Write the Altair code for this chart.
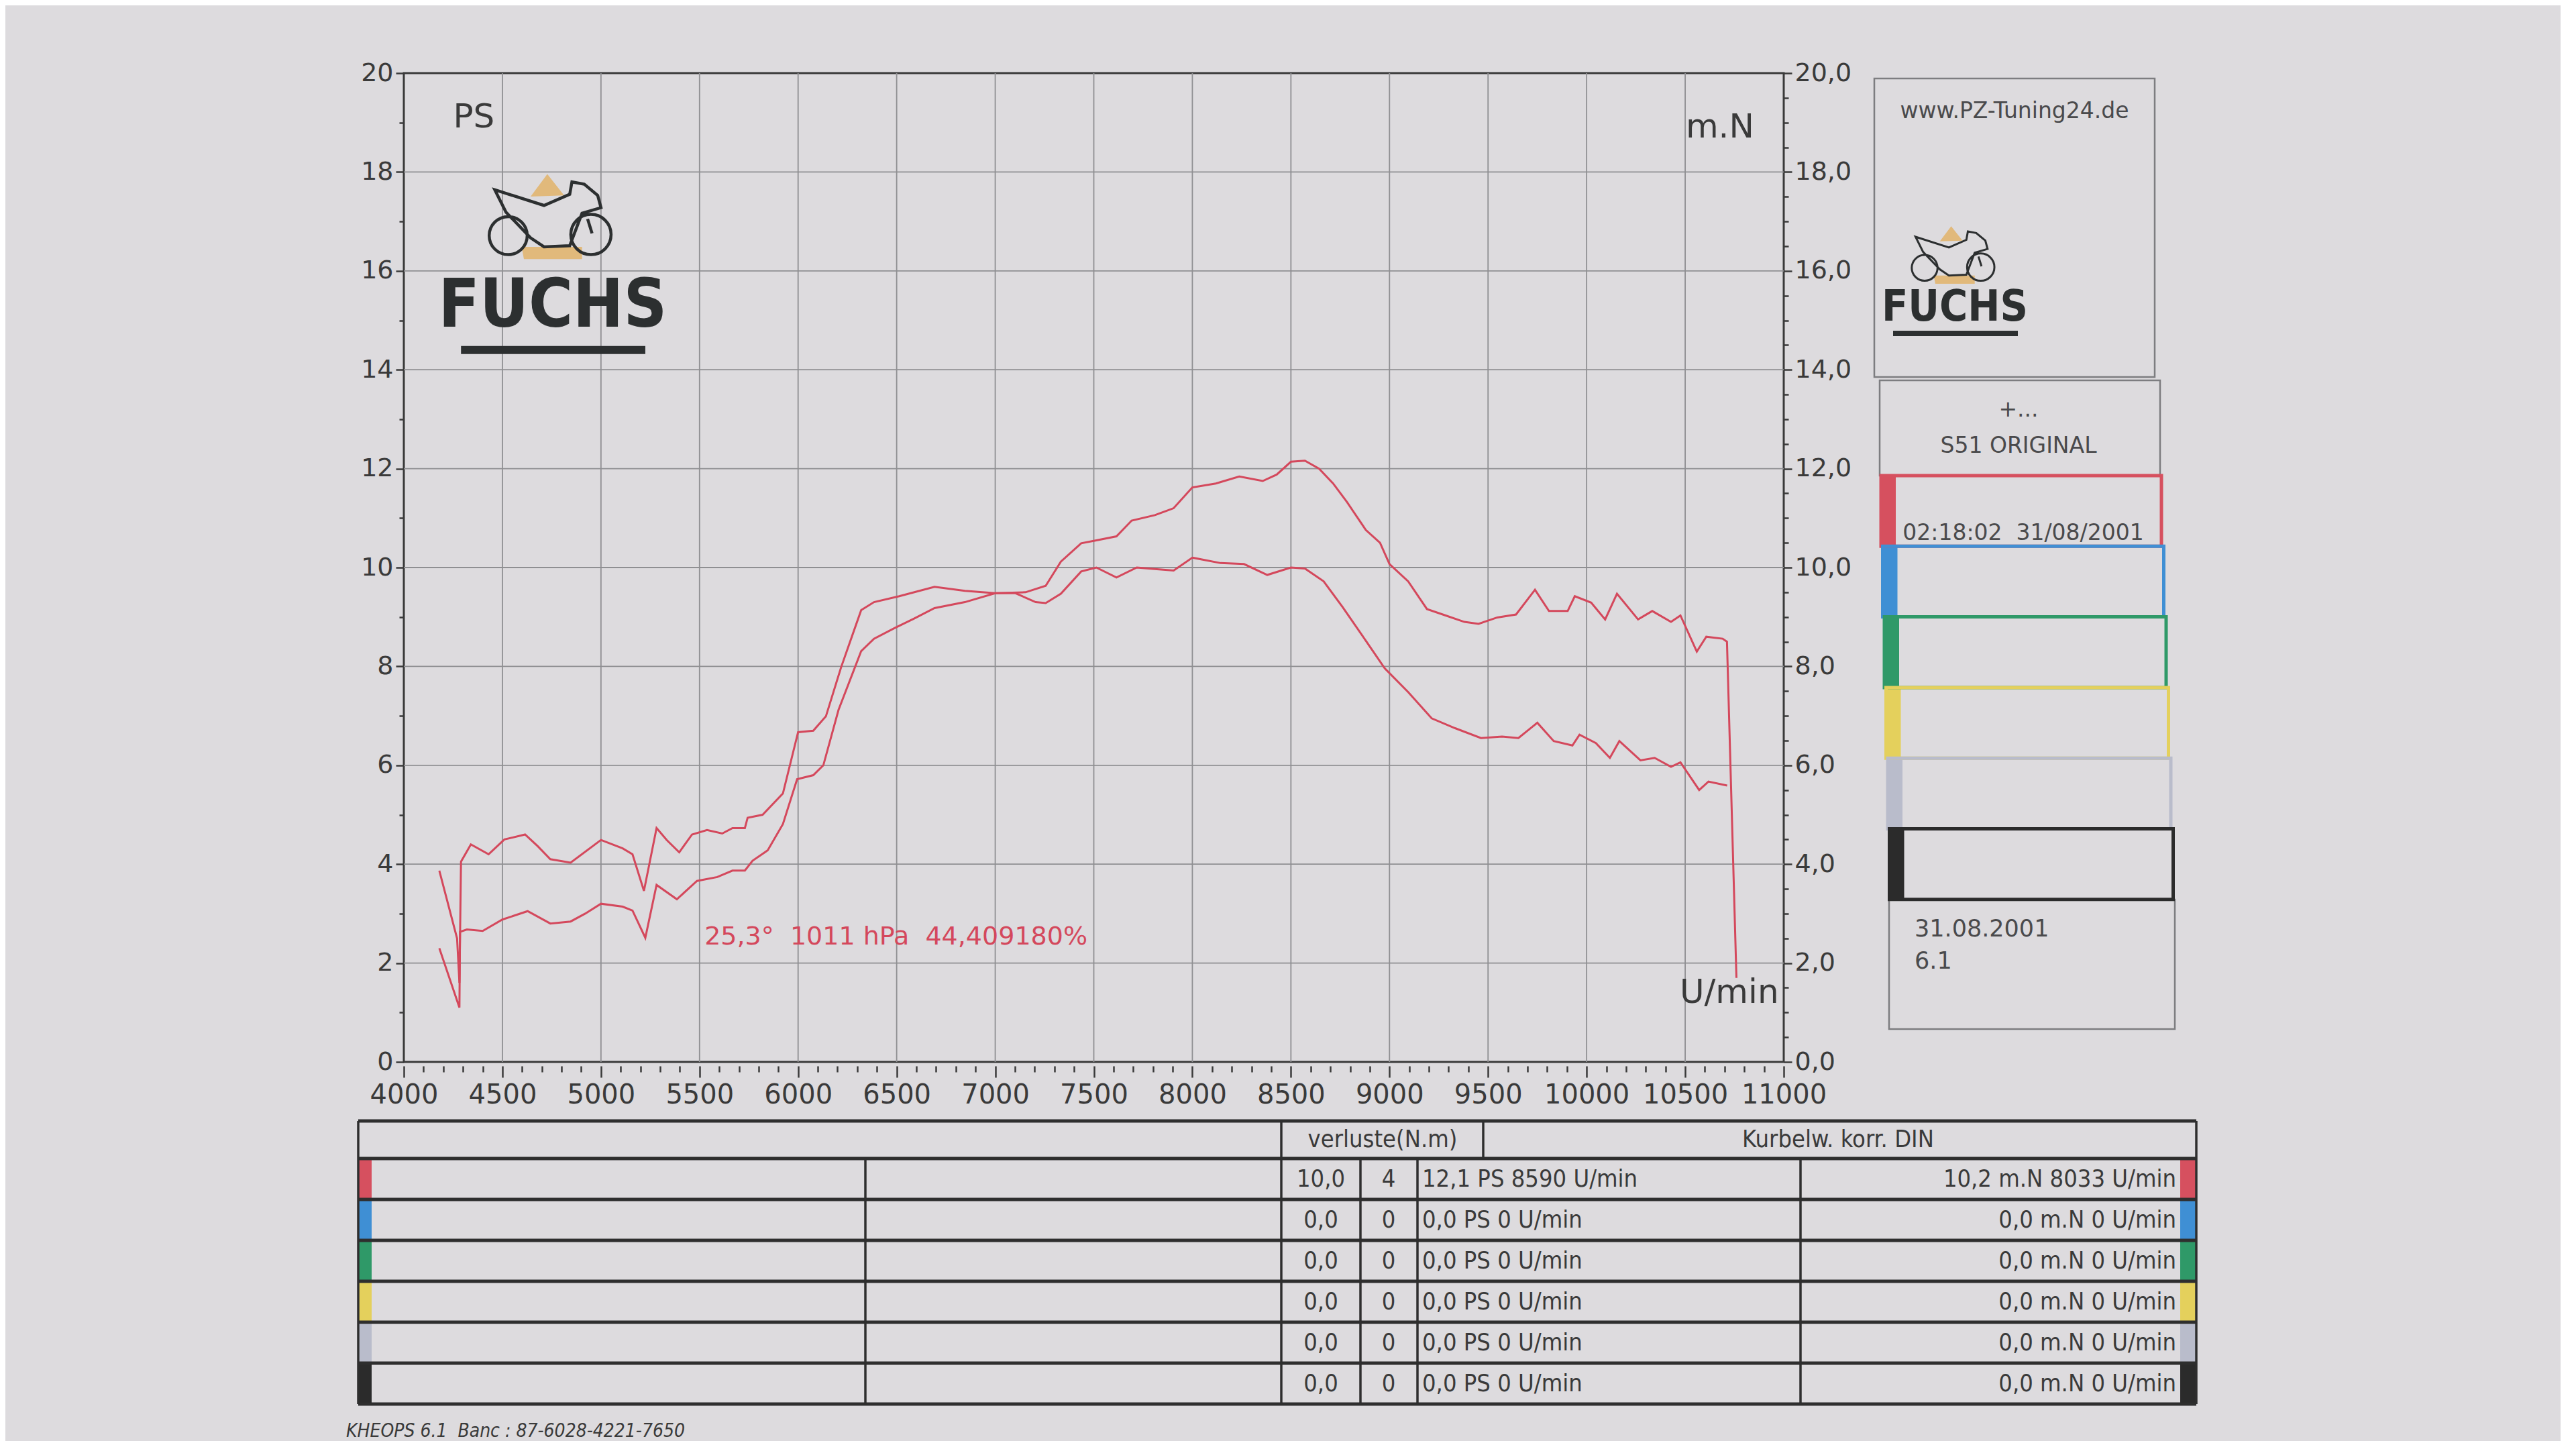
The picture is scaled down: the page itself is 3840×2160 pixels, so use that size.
import altair as alt
import pandas as pd

# ---------------- data read from the dyno sheet ----------------
ps_rpm = [4180, 4282, 4285, 4320, 4400, 4500, 4628, 4743, 4846, 4920, 5000, 5110, 5160, 5225,
          5282, 5385, 5487, 5590, 5667, 5730, 5769, 5846, 5923, 5995, 6077, 6128, 6205, 6320,
          6385, 6487, 6590, 6692, 6846, 7000, 7154, 7256, 7333, 7436, 7513, 7615, 7692, 7810,
          7905, 8000, 8119, 8238, 8357, 8428, 8500, 8571, 8643, 8714, 8785, 8880, 8952, 9000,
          9095, 9190, 9285, 9380, 9452, 9547, 9642, 9738, 9809, 9904, 9940, 10023, 10094, 10154,
          10261, 10333, 10428, 10476, 10559, 10607, 10690, 10712, 10760]
ps_val = [2.3, 1.1, 2.63, 2.68, 2.65, 2.88, 3.05, 2.8, 2.84, 3.0, 3.2, 3.14, 3.06, 2.51,
          3.58, 3.29, 3.66, 3.74, 3.87, 3.87, 4.07, 4.28, 4.81, 5.72, 5.8, 6.0, 7.12, 8.31,
          8.56, 8.77, 8.97, 9.18, 9.3, 9.48, 9.5, 9.63, 10.12, 10.49, 10.55, 10.63, 10.95, 11.06,
          11.2, 11.62, 11.7, 11.84, 11.75, 11.88, 12.14, 12.16, 12.0, 11.7, 11.32, 10.76, 10.5, 10.07,
          9.72, 9.16, 9.03, 8.9, 8.86, 8.99, 9.05, 9.55, 9.12, 9.12, 9.42, 9.29, 8.95, 9.47,
          8.95, 9.12, 8.9, 9.03, 8.3, 8.6, 8.56, 8.5, 1.7]

nm_rpm = [4180, 4270, 4282, 4290, 4340, 4430, 4510, 4615, 4680, 4743, 4846, 5000, 5110, 5160,
          5218, 5282, 5333, 5397, 5462, 5538, 5615, 5667, 5730, 5744, 5820, 5923, 6000, 6077,
          6141, 6218, 6320, 6385, 6513, 6692, 6846, 7000, 7103, 7205, 7256, 7333, 7436, 7513,
          7615, 7718, 7810, 7905, 8000, 8143, 8262, 8380, 8500, 8571, 8666, 8762, 8880, 8976,
          9095, 9214, 9333, 9464, 9571, 9654, 9750, 9833, 9928, 9964, 10047, 10118, 10166, 10273,
          10345, 10428, 10476, 10571, 10618, 10713]
nm_val = [3.87, 2.5, 1.6, 4.05, 4.4, 4.2, 4.5, 4.6, 4.36, 4.1, 4.03, 4.49, 4.32, 4.2,
          3.46, 4.73, 4.49, 4.24, 4.6, 4.69, 4.62, 4.73, 4.73, 4.94, 5.0, 5.43, 6.67, 6.7,
          6.99, 7.98, 9.14, 9.3, 9.42, 9.61, 9.53, 9.48, 9.48, 9.3, 9.28, 9.47, 9.92, 10.0,
          9.8, 10.0, 9.97, 9.94, 10.2, 10.09, 10.07, 9.85, 10.0, 9.98, 9.72, 9.2, 8.52, 7.96,
          7.48, 6.95, 6.75, 6.55, 6.58, 6.55, 6.86, 6.49, 6.4, 6.62, 6.45, 6.15, 6.49, 6.1,
          6.15, 5.97, 6.06, 5.5, 5.67, 5.59]

x_ticks = list(range(4000, 11001, 100))
x_grid = list(range(4500, 11000, 500))
y_ticks = [i * 0.5 for i in range(41)]
y_grid = list(range(2, 20, 2))

conditions_text = "25,3°\u00a0 1011 hPa\u00a0 44,409180%"
site = "www.PZ-Tuning24.de"
run_title = ["+...", "S51 ORIGINAL"]
run_stamp = "02:18:02\u00a0 31/08/2001"
sheet_date = ["31.08.2001", "6.1"]
run_colors = ["#d6505f", "#3f8fd4", "#2f9968", "#e4d05c", "#b9bccb", "#2b2b2b"]
head_loss = "verluste(N.m)"
head_din = "Kurbelw. korr. DIN"
loss_a = ["10,0", "0,0", "0,0", "0,0", "0,0", "0,0"]
loss_b = ["4", "0", "0", "0", "0", "0"]
ps_max = ["12,1 PS 8590 U/min", "0,0 PS 0 U/min", "0,0 PS 0 U/min",
          "0,0 PS 0 U/min", "0,0 PS 0 U/min", "0,0 PS 0 U/min"]
nm_max = ["10,2 m.N 8033 U/min", "0,0 m.N 0 U/min", "0,0 m.N 0 U/min",
          "0,0 m.N 0 U/min", "0,0 m.N 0 U/min", "0,0 m.N 0 U/min"]
footer = "KHEOPS 6.1\u00a0 Banc : 87-6028-4221-7650"

# ---------------- styles ----------------
RED = "#d4485c"
INK = "#3a3a3a"
PAPER = "#dddbde"
GRID = "#8f8f92"
FONT = "DejaVu Sans"
NARROW = "'Liberation Sans Narrow', 'DejaVu Sans Condensed', 'DejaVu Sans'"
LOGO_INK = "#2c2f30"
LOGO_GOLD = "#e2b36a"

MOTO = ("M-0.926,-0.426 L-0.111,-0.167 L0.315,-0.352 L0.352,-0.556 L0.556,-0.519 "
        "L0.778,-0.333 L0.833,-0.130 L0.519,-0.037 L0.315,0.5 L-0.111,0.519 L-0.333,0.370 "
        "L-0.741,-0.056 Z "
        "M-1.019,0.333 A0.315,0.315 0 1 0 -0.389,0.333 A0.315,0.315 0 1 0 -1.019,0.333 Z "
        "M0.333,0.315 A0.333,0.333 0 1 0 1.0,0.315 A0.333,0.333 0 1 0 0.333,0.315 Z "
        "M0.611,0.056 L0.685,0.296")
ACCENT = ("M-0.056,-0.685 L0.222,-0.333 L-0.333,-0.315 Z "
          "M-0.481,0.519 L0.519,0.519 L0.519,0.722 L-0.444,0.722 Z")

W, H = 2057, 1474

# ---------------- main dyno plot ----------------
xs = alt.Scale(domain=[4000, 11000], nice=False, zero=False)
ys = alt.Scale(domain=[0, 20], nice=False, zero=True)

x_axis = alt.Axis(values=x_ticks, format="d", title=None, domain=False, grid=False,
                  labelExpr="datum.value % 500 === 0 ? datum.label : ''",
                  labelOverlap=False, labelFlush=False, offset=6,
                  tickSize={"condition": {"test": "datum.value % 500 === 0", "value": 17}, "value": 9},
                  tickColor=INK, tickWidth=2.5, labelFont=FONT, labelFontSize=40,
                  labelColor=INK, labelPadding=6)
left_axis = alt.Axis(values=y_ticks, format="d", title=None, domain=False, grid=False,
                     labelExpr="datum.value % 2 === 0 ? datum.label : ''",
                     labelOverlap=False, labelFlush=False,
                     tickSize={"condition": {"test": "datum.value % 2 === 0", "value": 12}, "value": 7},
                     tickColor=INK, tickWidth=2.5, labelFont=FONT, labelFontSize=38,
                     labelColor=INK, labelPadding=4)
right_axis = alt.Axis(values=y_ticks, title=None, domain=False, grid=False, orient="right",
                      labelExpr="datum.value % 2 === 0 ? replace(format(datum.value, '.1f'), '.', ',') : ''",
                      labelOverlap=False, labelFlush=False,
                      tickSize={"condition": {"test": "datum.value % 2 === 0", "value": 12}, "value": 7},
                      tickColor=INK, tickWidth=2.5, labelFont=FONT, labelFontSize=38,
                      labelColor=INK, labelPadding=4)

X = alt.X("rpm:Q", scale=xs, axis=x_axis)
YL = alt.Y("val:Q", scale=ys, axis=left_axis)

vgrid = alt.Chart(pd.DataFrame({"rpm": x_grid})).mark_rule(color=GRID, strokeWidth=1.8).encode(x=X)
hgrid = alt.Chart(pd.DataFrame({"val": y_grid})).mark_rule(color=GRID, strokeWidth=1.8).encode(y=YL)

power = alt.Chart(pd.DataFrame({"rpm": ps_rpm, "val": ps_val})).mark_line(
    color=RED, strokeWidth=3, interpolate="linear").encode(x=X, y=YL, order="rpm:Q")

labels_df = pd.DataFrame({"rpm": [4250], "val": [19.1], "label": ["PS"]})
ps_label = alt.Chart(labels_df).mark_text(font=FONT, fontSize=50, color=INK, align="left",
                                          baseline="middle").encode(x=X, y=YL, text="label:N")
nm_lab_df = pd.DataFrame({"rpm": [10850], "val": [18.9], "label": ["m.N"]})
nm_label = alt.Chart(nm_lab_df).mark_text(font=FONT, fontSize=50, color=INK, align="right",
                                          baseline="middle").encode(x=X, y=YL, text="label:N")
u_df = pd.DataFrame({"rpm": [10975], "val": [1.4], "label": ["U/min"]})
u_label = alt.Chart(u_df).mark_text(font=FONT, fontSize=50, color=INK, align="right",
                                    baseline="middle").encode(x=X, y=YL, text="label:N")
cond_df = pd.DataFrame({"rpm": [5525], "val": [2.52], "label": [conditions_text]})
cond_label = alt.Chart(cond_df).mark_text(font=FONT, fontSize=38, color=RED, align="left",
                                          baseline="middle").encode(x=X, y=YL, text="label:N")

logo_pos = pd.DataFrame({"rpm": [4745], "val": [17.12]})
moto_gold = alt.Chart(logo_pos).mark_point(shape=ACCENT, size=32400, filled=True,
                                           color=LOGO_GOLD, opacity=0.85, strokeWidth=0).encode(x=X, y=YL)
moto = alt.Chart(logo_pos).mark_point(shape=MOTO, size=32400, filled=False, color=LOGO_INK,
                                      opacity=1, strokeWidth=4.5).encode(x=X, y=YL)
fuchs_df = pd.DataFrame({"rpm": [4755], "val": [15.28], "label": ["FUCHS"]})
fuchs = alt.Chart(fuchs_df).mark_text(font=NARROW, fontSize=100, fontWeight="bold", color=LOGO_INK,
                                      align="center", baseline="middle").encode(x=X, y=YL, text="label:N")
bar_df = pd.DataFrame({"rpm": [4290], "rpm2": [5225], "val": [14.4]})
fuchs_bar = alt.Chart(bar_df).mark_rule(color=LOGO_INK, strokeWidth=12).encode(
    x=X, x2="rpm2:Q", y=YL)

left_layer = alt.layer(hgrid, vgrid, moto_gold, moto, fuchs, fuchs_bar, ps_label, nm_label,
                       u_label, cond_label, power)

torque = alt.Chart(pd.DataFrame({"rpm": nm_rpm, "val": nm_val})).mark_line(
    color=RED, strokeWidth=3).encode(
    x=X, y=alt.Y("val:Q", scale=ys, axis=right_axis), order="rpm:Q")

main = alt.layer(left_layer, torque).resolve_scale(y="independent").properties(
    width=W, height=H, view=alt.ViewBackground(stroke=INK, strokeWidth=3))

# ---------------- side panel ----------------
SW, SH = 450, 1425
TOP_GAP = 8
px = alt.Scale(domain=[0, SW], nice=False, zero=False)
py = alt.Scale(domain=[-TOP_GAP, SH - TOP_GAP], nice=False, zero=False, reverse=True)
PX = lambda f: alt.X(f, scale=px, axis=None)
PY = lambda f: alt.Y(f, scale=py, axis=None)

box_df = pd.DataFrame({"x0": [0, 8, 22], "x1": [418, 426, 448],
                       "y0": [0, 450, 1224], "y1": [445, 592, 1417]})
boxes = alt.Chart(box_df).mark_rect(fill=None, stroke="#7d7d80", strokeWidth=2.5).encode(
    x=PX("x0:Q"), x2="x1:Q", y=PY("y0:Q"), y2="y1:Q")

run_df = pd.DataFrame({"color": run_colors, "idx": list(range(6))})
run_df["y0"] = 592 + run_df["idx"] * 105.3
run_df["y1"] = run_df["y0"] + 105.3
run_df["x0"] = 10 + run_df["idx"] * 2.5
run_df["x1"] = 428 + run_df["idx"] * 3.5
run_df["s1"] = run_df["x0"] + 22
run_boxes = alt.Chart(run_df).mark_rect(fill=None, strokeWidth=5).encode(
    x=PX("x0:Q"), x2="x1:Q", y=PY("y0:Q"), y2="y1:Q",
    stroke=alt.Color("color:N", scale=None))
run_stripes = alt.Chart(run_df).mark_rect().encode(
    x=PX("x0:Q"), x2="s1:Q", y=PY("y0:Q"), y2="y1:Q",
    fill=alt.Color("color:N", scale=None))

side_text_df = pd.DataFrame({
    "x": [209, 215, 215, 222],
    "y": [49, 494, 548, 678],
    "label": [site, run_title[0], run_title[1], run_stamp]})
side_text = alt.Chart(side_text_df).mark_text(font=FONT, fontSize=33, color="#4a4a4c",
                                              align="center", baseline="middle").encode(
    x=PX("x:Q"), y=PY("y:Q"), text="label:N")
date_df = pd.DataFrame({"x": [60, 60], "y": [1268, 1316], "label": sheet_date})
date_text = alt.Chart(date_df).mark_text(font=FONT, fontSize=35, color="#4a4a4c",
                                         align="left", baseline="middle").encode(
    x=PX("x:Q"), y=PY("y:Q"), text="label:N")

s_logo = pd.DataFrame({"x": [118], "y": [262]})
s_gold = alt.Chart(s_logo).mark_point(shape=ACCENT, size=14900, filled=True, color=LOGO_GOLD,
                                      opacity=0.85, strokeWidth=0).encode(x=PX("x:Q"), y=PY("y:Q"))
s_moto = alt.Chart(s_logo).mark_point(shape=MOTO, size=14900, filled=False, color=LOGO_INK,
                                      opacity=1, strokeWidth=3).encode(x=PX("x:Q"), y=PY("y:Q"))
s_fuchs_df = pd.DataFrame({"x": [120], "y": [342], "label": ["FUCHS"]})
s_fuchs = alt.Chart(s_fuchs_df).mark_text(font=NARROW, fontSize=64, fontWeight="bold",
                                          color=LOGO_INK, align="center", baseline="middle").encode(
    x=PX("x:Q"), y=PY("y:Q"), text="label:N")
s_bar_df = pd.DataFrame({"x": [28], "x2": [214], "y": [380]})
s_bar = alt.Chart(s_bar_df).mark_rule(color=LOGO_INK, strokeWidth=8).encode(
    x=PX("x:Q"), x2="x2:Q", y=PY("y:Q"))

side = alt.layer(boxes, run_stripes, run_boxes, side_text, date_text, s_gold, s_moto,
                 s_fuchs, s_bar).properties(width=SW, height=SH)

# ---------------- bottom table ----------------
TW, TH = 2740, 475
SHIFT = 68          # the table starts left of the plot frame
tx = alt.Scale(domain=[SHIFT, TW], nice=False, zero=False)
ty = alt.Scale(domain=[0, TH], nice=False, zero=False, reverse=True)
TX = lambda f: alt.X(f, scale=tx, axis=None)
TY = lambda f: alt.Y(f, scale=ty, axis=None)

HEAD, ROW = 56, 61
row_top = [HEAD + i * ROW for i in range(6)]
table_bottom = HEAD + 6 * ROW

hlines = pd.DataFrame({"x0": 0, "x1": TW, "y": [0] + row_top + [table_bottom]})
h_rules = alt.Chart(hlines).mark_rule(color="#2e2e2e", strokeWidth=5).encode(
    x=TX("x0:Q"), x2="x1:Q", y=TY("y:Q"))
vlines = pd.DataFrame({"x": [0, TW, 1376, 1677, 756, 1494, 1579, 2150],
                       "y0": [0, 0, 0, 0, HEAD, HEAD, HEAD, HEAD],
                       "y1": [table_bottom, table_bottom, table_bottom, HEAD,
                              table_bottom, table_bottom, table_bottom, table_bottom]})
v_rules = alt.Chart(vlines).mark_rule(color="#2e2e2e", strokeWidth=3.5).encode(
    x=TX("x:Q"), y=TY("y0:Q"), y2="y1:Q")

stripe_df = pd.DataFrame({"color": run_colors, "y0": row_top,
                          "y1": [r + ROW for r in row_top]})
stripe_df["a0"], stripe_df["a1"] = 0, 20
stripe_df["b0"], stripe_df["b1"] = TW - 24, TW
l_stripes = alt.Chart(stripe_df).mark_rect().encode(
    x=TX("a0:Q"), x2="a1:Q", y=TY("y0:Q"), y2="y1:Q", fill=alt.Color("color:N", scale=None))
r_stripes = alt.Chart(stripe_df).mark_rect().encode(
    x=TX("b0:Q"), x2="b1:Q", y=TY("y0:Q"), y2="y1:Q", fill=alt.Color("color:N", scale=None))

head_df = pd.DataFrame({"x": [1527, 2206], "y": [HEAD / 2, HEAD / 2], "label": [head_loss, head_din]})
head_text = alt.Chart(head_df).mark_text(font=NARROW, fontSize=36, color=INK, align="center",
                                         baseline="middle").encode(
    x=TX("x:Q"), y=TY("y:Q"), text="label:N")

mid = [r + ROW / 2 for r in row_top]
cells = pd.DataFrame({
    "x": [1435] * 6 + [1536] * 6 + [1586] * 6,
    "y": mid * 3,
    "label": loss_a + loss_b + ps_max,
    "align": ["center"] * 12 + ["left"] * 6})
cell_c = alt.Chart(cells[cells["align"] == "center"]).mark_text(
    font=NARROW, fontSize=36, color=INK, align="center", baseline="middle").encode(
    x=TX("x:Q"), y=TY("y:Q"), text="label:N")
cell_l = alt.Chart(cells[cells["align"] == "left"]).mark_text(
    font=NARROW, fontSize=36, color=INK, align="left", baseline="middle").encode(
    x=TX("x:Q"), y=TY("y:Q"), text="label:N")
right_df = pd.DataFrame({"x": [TW - 30] * 6, "y": mid, "label": nm_max})
cell_r = alt.Chart(right_df).mark_text(
    font=NARROW, fontSize=36, color=INK, align="right", baseline="middle").encode(
    x=TX("x:Q"), y=TY("y:Q"), text="label:N")

foot_df = pd.DataFrame({"x": [-18], "y": [TH - 12], "label": [footer]})
foot = alt.Chart(foot_df).mark_text(font=NARROW, fontSize=28, fontStyle="italic", color=INK,
                                    align="left", baseline="middle").encode(
    x=TX("x:Q"), y=TY("y:Q"), text="label:N")

table = alt.layer(l_stripes, r_stripes, h_rules, v_rules, head_text, cell_c, cell_l, cell_r,
                  foot).properties(width=TW - SHIFT, height=TH)

# ---------------- assemble ----------------
top = alt.hconcat(main, side, spacing=30)
chart = alt.vconcat(top, table, spacing=14).properties(
    background=PAPER,
    padding={"left": 508, "top": 80, "right": 540, "bottom": 0},
).configure_view(strokeWidth=0)

chart.save("out.html", embed_options={"renderer": "svg", "actions": False})
